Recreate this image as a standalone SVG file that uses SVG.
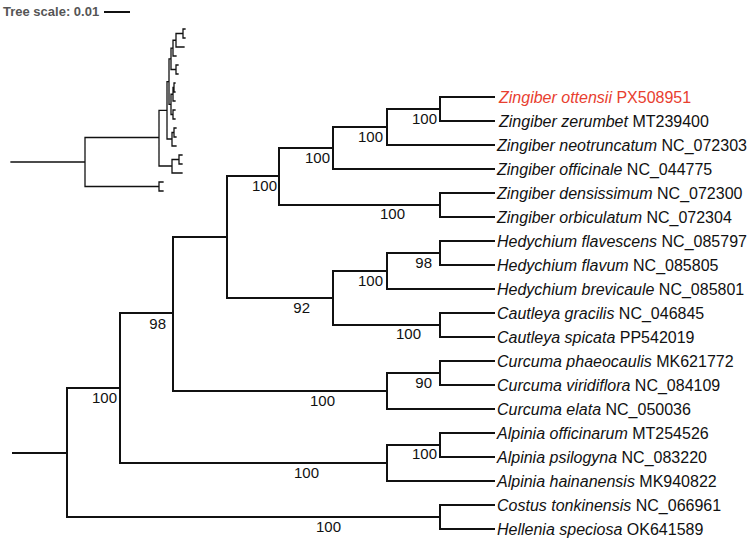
<svg xmlns="http://www.w3.org/2000/svg" width="750" height="540" viewBox="0 0 750 540">
<style>
.br{fill:none;stroke:#111;stroke-width:2;stroke-linecap:square}
.ib{fill:none;stroke:#111;stroke-width:1.3;stroke-linecap:square}
.tip{font-family:"Liberation Sans",Arial,sans-serif;font-size:16px;fill:#111}
.sp{font-style:italic}
.bs{font-family:"Liberation Sans",Arial,sans-serif;font-size:15px;fill:#111;text-anchor:end}
.red{fill:#e8402f}
.ts{font-family:"Liberation Sans",Arial,sans-serif;font-size:13px;font-weight:bold;fill:#555}
</style>
<rect width="750" height="540" fill="#fff"/>
<g id="scale">
<text class="ts" x="3" y="16">Tree scale: 0.01</text>
<line x1="104" y1="12" x2="130" y2="12" stroke="#111" stroke-width="2"/>
</g>
<g id="inset-tree">
<path class="ib" d="M11,162H85M85,137.5V186.5M85,137.5H159M85,186.5H159M159,182V191M159,182H163M159,191H163M159,110.4V166M159,110.4H167M159,166H172M172,159.5V173M172,159.5H179M172,173H182M179,155V164M179,155H182M179,164H182M167,81.6V139M167,81.6H169M167,139H172M172,132.5V146M172,132.5H174M172,146H176M174,128V137M174,128H176M174,137H176M169,58.8V104.4M169,58.8H171M169,104.4H171M171,48.1V69.5M171,48.1H173M171,69.5H176M176,65V74M176,65H178M176,74H178M173,40.25V56M173,40.25H176M173,56H176M176,33.5V47M176,33.5H183M176,47H184M183,29V38M183,29H185M183,38H185M171,94.25V114.5M171,94.25H173M171,114.5H173M173,87.5V101M173,87.5H174M173,101H175M174,83V92M174,83H175M174,92H175M173,110V119M173,110H175M173,119H175"/>
</g>
<g id="connectors">
<path class="br" d="M13,453H67M67,388V517M67,388H120M67,517H440
M120,313V463M120,313H173M120,463H387
M173,237V391M173,237H227M173,391H387
M227,176V298M227,176H279M227,298H333
M279,148V205M279,148H333M279,205H440
M333,127V169M333,127H387M333,169H494
M387,109V145M387,109H440M387,145H494
M440,97V121M440,97H494M440,121H494
M440,193V217M440,193H494M440,217H494
M333,271V325M333,271H387M333,325H440
M387,253V289M387,253H440M387,289H494
M440,241V265M440,241H494M440,265H494
M440,313V337M440,313H494M440,337H494
M387,373V409M387,373H440M387,409H494
M440,361V385M440,361H494M440,385H494
M387,445V481M387,445H440M387,481H494
M440,433V457M440,433H494M440,457H494
M440,505V529M440,505H494M440,529H494"/>
</g>
<g id="leaves">
<g id="t1"><text class="tip red" x="499" y="103"><tspan class="sp">Zingiber ottensii</tspan> PX508951</text></g>
<g id="t2"><text class="tip" x="499" y="127"><tspan class="sp">Zingiber zerumbet</tspan> MT239400</text></g>
<g id="t3"><text class="tip" x="497" y="151"><tspan class="sp">Zingiber neotruncatum</tspan> NC_072303</text></g>
<g id="t4"><text class="tip" x="497" y="175"><tspan class="sp">Zingiber officinale</tspan> NC_044775</text></g>
<g id="t5"><text class="tip" x="497" y="199"><tspan class="sp">Zingiber densissimum</tspan> NC_072300</text></g>
<g id="t6"><text class="tip" x="497" y="223"><tspan class="sp">Zingiber orbiculatum</tspan> NC_072304</text></g>
<g id="t7"><text class="tip" x="497" y="247"><tspan class="sp">Hedychium flavescens</tspan> NC_085797</text></g>
<g id="t8"><text class="tip" x="497" y="271"><tspan class="sp">Hedychium flavum</tspan> NC_085805</text></g>
<g id="t9"><text class="tip" x="497" y="295"><tspan class="sp">Hedychium brevicaule</tspan> NC_085801</text></g>
<g id="t10"><text class="tip" x="497" y="319"><tspan class="sp">Cautleya gracilis</tspan> NC_046845</text></g>
<g id="t11"><text class="tip" x="497" y="343"><tspan class="sp">Cautleya spicata</tspan> PP542019</text></g>
<g id="t12"><text class="tip" x="497" y="367"><tspan class="sp">Curcuma phaeocaulis</tspan> MK621772</text></g>
<g id="t13"><text class="tip" x="497" y="391"><tspan class="sp">Curcuma viridiflora</tspan> NC_084109</text></g>
<g id="t14"><text class="tip" x="497" y="415"><tspan class="sp">Curcuma elata</tspan> NC_050036</text></g>
<g id="t15"><text class="tip" x="497" y="439"><tspan class="sp">Alpinia officinarum</tspan> MT254526</text></g>
<g id="t16"><text class="tip" x="497" y="463"><tspan class="sp">Alpinia psilogyna</tspan> NC_083220</text></g>
<g id="t17"><text class="tip" x="497" y="487"><tspan class="sp">Alpinia hainanensis</tspan> MK940822</text></g>
<g id="t18"><text class="tip" x="497" y="511"><tspan class="sp">Costus tonkinensis</tspan> NC_066961</text></g>
<g id="t19"><text class="tip" x="497" y="535"><tspan class="sp">Hellenia speciosa</tspan> OK641589</text></g>
</g>
<g id="support">
<g id="n1"><text class="bs" x="437" y="124">100</text></g>
<g id="n2"><text class="bs" x="383" y="142">100</text></g>
<g id="n3"><text class="bs" x="330" y="163">100</text></g>
<g id="n4"><text class="bs" x="277" y="191">100</text></g>
<g id="n5"><text class="bs" x="405" y="219">100</text></g>
<g id="n6"><text class="bs" x="432" y="268">98</text></g>
<g id="n7"><text class="bs" x="383" y="286">100</text></g>
<g id="n8"><text class="bs" x="310" y="313">92</text></g>
<g id="n9"><text class="bs" x="421" y="339">100</text></g>
<g id="n10"><text class="bs" x="166" y="329">98</text></g>
<g id="n11"><text class="bs" x="432" y="388">90</text></g>
<g id="n12"><text class="bs" x="335" y="406">100</text></g>
<g id="n13"><text class="bs" x="117" y="403">100</text></g>
<g id="n14"><text class="bs" x="437" y="459">100</text></g>
<g id="n15"><text class="bs" x="319" y="478">100</text></g>
<g id="n16"><text class="bs" x="341" y="532">100</text></g>
</g>
</svg>
